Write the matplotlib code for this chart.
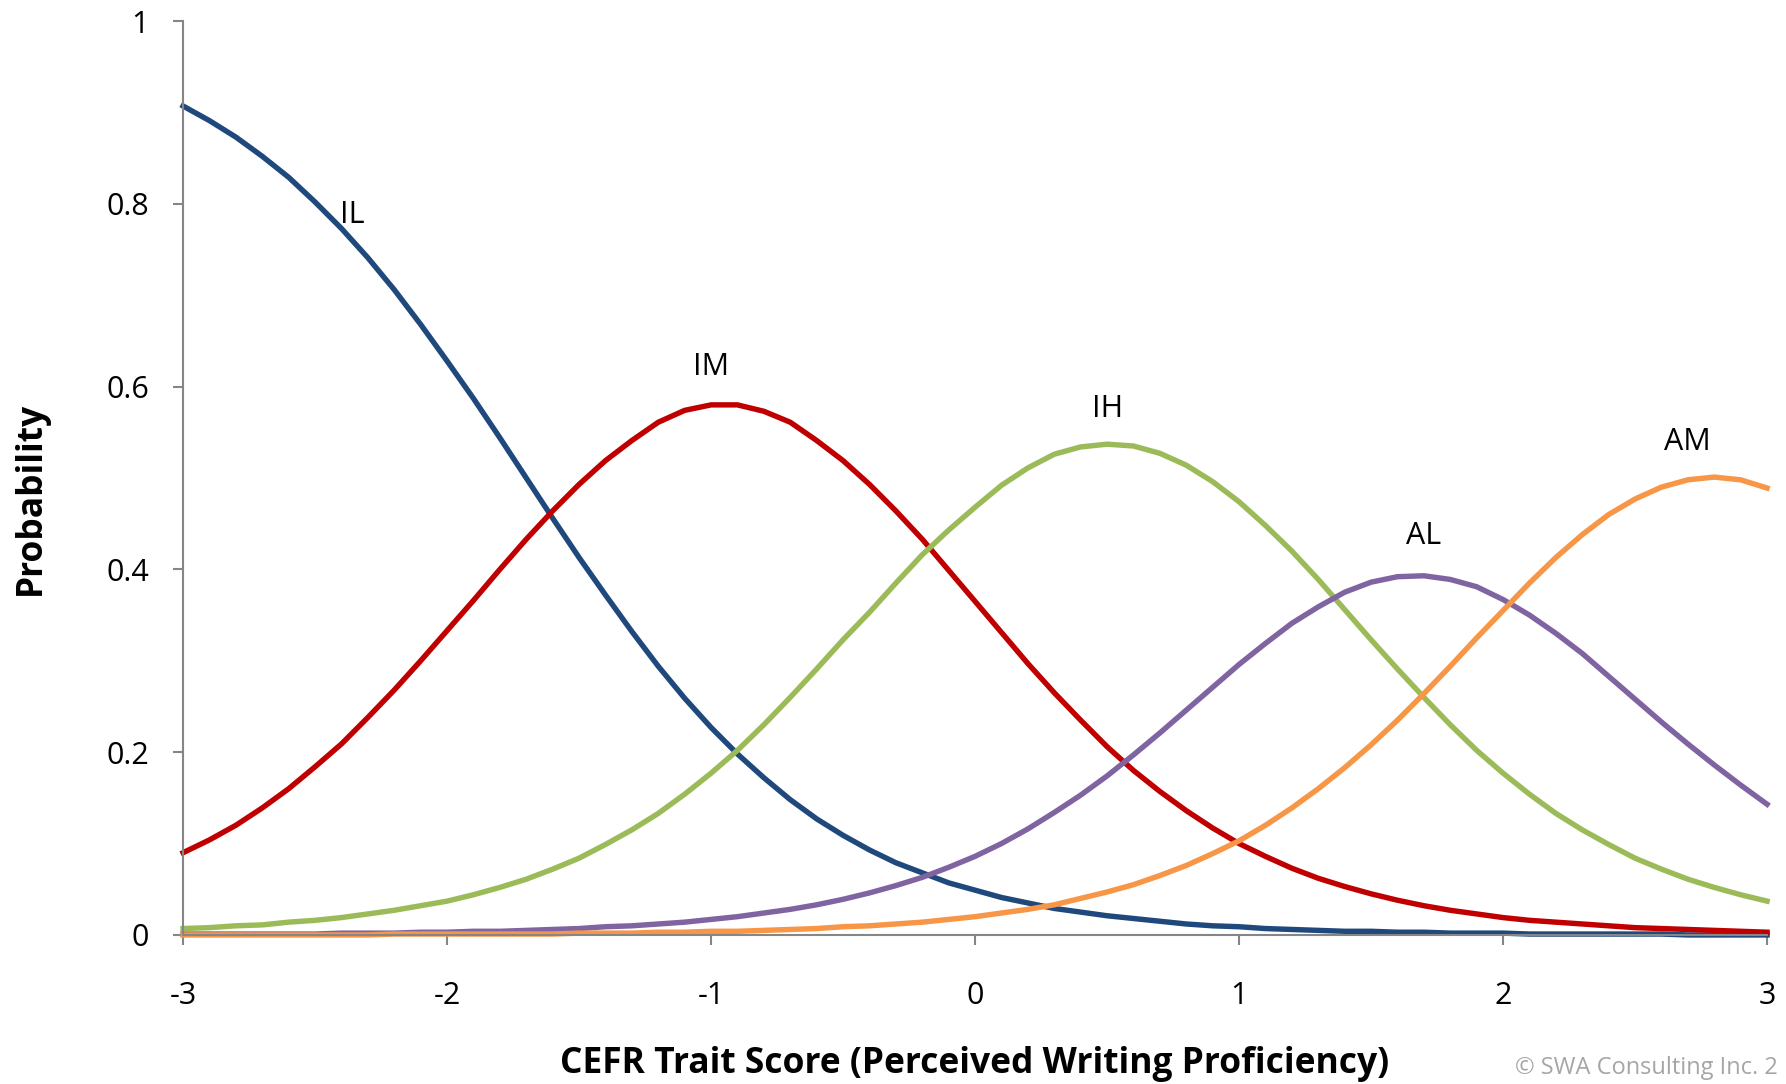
#!/usr/bin/env python3
"""
Category response curves for the CEFR writing trait
"""

from typing import List
import matplotlib
matplotlib.use('Agg')
import matplotlib.pyplot as plt  # type: ignore

plt.rcParams['font.family'] = ['Open Sans', 'DejaVu Sans']
plt.rcParams['axes.unicode_minus'] = False

THETA = [-3.0, -2.9, -2.8, -2.7, -2.6, -2.5, -2.4, -2.3, -2.2, -2.1,
         -2.0, -1.9, -1.8, -1.7, -1.6, -1.5, -1.4, -1.3, -1.2, -1.1,
         -1.0, -0.9, -0.8, -0.7, -0.6, -0.5, -0.4, -0.3, -0.2, -0.1,
         0.0, 0.1, 0.2, 0.3, 0.4, 0.5, 0.6, 0.7, 0.8, 0.9,
         1.0, 1.1, 1.2, 1.3, 1.4, 1.5, 1.6, 1.7, 1.8, 1.9,
         2.0, 2.1, 2.2, 2.3, 2.4, 2.5, 2.6, 2.7, 2.8, 2.9, 3.0]

IL = [0.907, 0.891, 0.873, 0.852, 0.829, 0.802, 0.773, 0.741, 0.706, 0.668,
      0.628, 0.587, 0.544, 0.500, 0.456, 0.413, 0.372, 0.332, 0.294, 0.259,
      0.227, 0.198, 0.172, 0.148, 0.127, 0.109, 0.093, 0.079, 0.068, 0.057,
      0.049, 0.041, 0.035, 0.029, 0.025, 0.021, 0.018, 0.015, 0.012, 0.010,
      0.009, 0.007, 0.006, 0.005, 0.004, 0.004, 0.003, 0.003, 0.002, 0.002,
      0.002, 0.001, 0.001, 0.001, 0.001, 0.001, 0.001, 0.000, 0.000, 0.000, 0.000]

IM = [0.090, 0.104, 0.120, 0.139, 0.160, 0.184, 0.209, 0.238, 0.268, 0.300,
      0.333, 0.366, 0.400, 0.433, 0.464, 0.493, 0.519, 0.541, 0.561, 0.574,
      0.580, 0.580, 0.573, 0.561, 0.541, 0.519, 0.493, 0.464, 0.433, 0.399,
      0.365, 0.331, 0.297, 0.265, 0.235, 0.206, 0.180, 0.157, 0.136, 0.117,
      0.100, 0.086, 0.073, 0.062, 0.053, 0.045, 0.038, 0.032, 0.027, 0.023,
      0.019, 0.016, 0.014, 0.012, 0.010, 0.008, 0.007, 0.006, 0.005, 0.004, 0.003]

IH = [0.007, 0.008, 0.010, 0.011, 0.014, 0.016, 0.019, 0.023, 0.027, 0.032,
      0.037, 0.044, 0.052, 0.061, 0.072, 0.084, 0.099, 0.115, 0.133, 0.154,
      0.177, 0.202, 0.230, 0.260, 0.291, 0.323, 0.353, 0.385, 0.416, 0.443,
      0.468, 0.492, 0.511, 0.526, 0.534, 0.537, 0.535, 0.527, 0.514, 0.496,
      0.474, 0.448, 0.420, 0.389, 0.356, 0.323, 0.291, 0.260, 0.230, 0.202,
      0.177, 0.154, 0.133, 0.115, 0.099, 0.084, 0.072, 0.061, 0.052, 0.044, 0.037]

AL = [0.001, 0.001, 0.001, 0.001, 0.001, 0.001, 0.002, 0.002, 0.002, 0.003,
      0.003, 0.004, 0.004, 0.005, 0.006, 0.007, 0.009, 0.010, 0.012, 0.014,
      0.017, 0.020, 0.024, 0.028, 0.033, 0.039, 0.046, 0.054, 0.063, 0.074,
      0.086, 0.100, 0.116, 0.134, 0.153, 0.174, 0.197, 0.221, 0.246, 0.271,
      0.296, 0.319, 0.341, 0.359, 0.375, 0.386, 0.392, 0.393, 0.389, 0.381,
      0.367, 0.350, 0.330, 0.308, 0.283, 0.258, 0.233, 0.209, 0.186, 0.164, 0.143]

AM = [0.000, 0.000, 0.000, 0.000, 0.000, 0.000, 0.000, 0.000, 0.001, 0.001,
      0.001, 0.001, 0.001, 0.001, 0.001, 0.002, 0.002, 0.002, 0.003, 0.003,
      0.004, 0.004, 0.005, 0.006, 0.007, 0.009, 0.010, 0.012, 0.014, 0.017,
      0.020, 0.024, 0.028, 0.033, 0.040, 0.047, 0.055, 0.065, 0.076, 0.089,
      0.103, 0.120, 0.139, 0.160, 0.183, 0.208, 0.235, 0.264, 0.294, 0.325,
      0.355, 0.385, 0.413, 0.438, 0.460, 0.477, 0.490, 0.498, 0.501, 0.498, 0.489]

LEVELS = ['IL', 'IM', 'IH', 'AL', 'AM']
COLORS = ['#1F497D', '#C00000', '#9BBB59', '#8064A2', '#F79646']
# where the level names sit (theta, probability)
LABEL_POS = [(-2.36, 0.788), (-1.0, 0.621), (0.50, 0.575), (1.70, 0.436), (2.70, 0.539)]

X_TICKS = [-3, -2, -1, 0, 1, 2, 3]
Y_TICKS = [0, 0.2, 0.4, 0.6, 0.8, 1.0]
Y_TICK_LABELS = ['0', '0.2', '0.4', '0.6', '0.8', '1']

AXIS_GREY = '#868686'


def style_axes(ax) -> None:
    """
    Excel-like axes: only left and bottom spines, grey, ticks outside
    """
    for side in ('top', 'right'):
        ax.spines[side].set_visible(False)
    for side in ('left', 'bottom'):
        ax.spines[side].set_color(AXIS_GREY)
        ax.spines[side].set_linewidth(1.5)
    ax.set_xlim(-3, 3)
    ax.set_ylim(0, 1)
    ax.set_xticks(X_TICKS)
    ax.set_xticklabels([str(t) for t in X_TICKS])
    ax.set_yticks(Y_TICKS)
    ax.set_yticklabels(Y_TICK_LABELS)
    ax.tick_params(axis='both', direction='out', length=7.5, width=1.5,
                   color=AXIS_GREY, labelsize=22, labelcolor='black')
    ax.tick_params(axis='x', pad=26)
    ax.tick_params(axis='y', pad=17)


def plot_curves(ax, series: List[List[float]]) -> None:
    """
    One line per proficiency level, name written above its peak
    """
    for idx, values in enumerate(series):
        ax.plot(THETA, values, color=COLORS[idx], linewidth=3.9,
                clip_on=False, solid_joinstyle='miter')
        ax.text(LABEL_POS[idx][0], LABEL_POS[idx][1], LEVELS[idx],
                fontsize=22, ha='center', va='center')


def do_main_function():
    """
    Build the figure and save it
    """
    fig = plt.figure(figsize=(17.86, 10.84), dpi=100)
    ax = fig.add_axes([0.1025, 0.1375, 0.8869, 0.8431])
    style_axes(ax)
    plot_curves(ax, [IL, IM, IH, AL, AM])

    fig.text(975 / 1786, 1 - 1064 / 1084,
             'CEFR Trait Score (Perceived Writing Proficiency)',
             fontsize=25.5, fontweight='bold', ha='center', va='center')
    fig.text(31 / 1786, 1 - 498 / 1084, 'Probability', rotation=90,
             fontsize=25.5, fontweight='bold', ha='center', va='center')
    fig.text(1515 / 1786, 1 - 1068 / 1084, '\u00a9 SWA Consulting Inc. 2',
             fontsize=17, color='#A6A6A6', ha='left', va='center')

    fig.savefig('out.png', dpi=100)


if __name__ == '__main__':
    do_main_function()
